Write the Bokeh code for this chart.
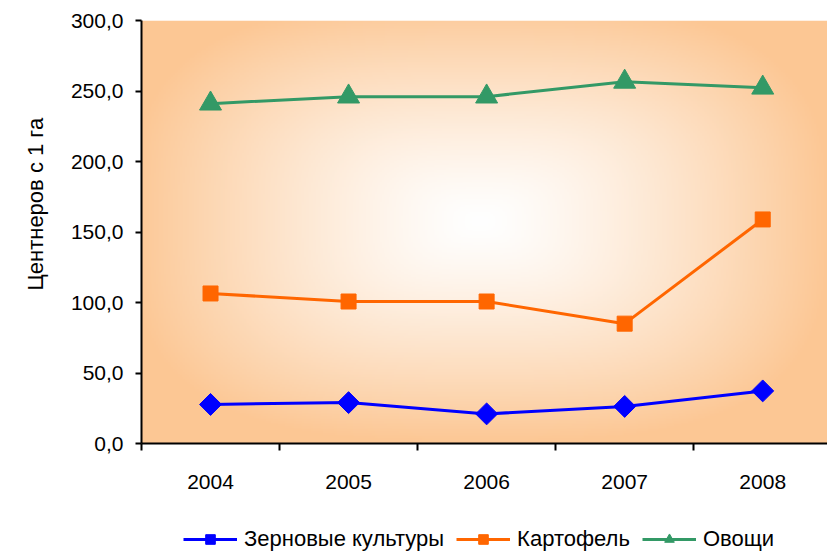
import numpy as np
from bokeh.plotting import figure
from bokeh.layouts import column
from bokeh.models import (Range1d, FixedTicker, CustomJSTickFormatter, Legend, LegendItem, Title)
from bokeh.embed import file_html
from bokeh.resources import INLINE

years = [2004, 2005, 2006, 2007, 2008]
grain = [27.7, 29.0, 21.0, 26.3, 37.3]
potato = [106.4, 100.7, 100.7, 85.0, 158.9]
veg = [241.0, 246.0, 246.0, 256.5, 252.3]
series_names = ["Зерновые культуры", "Картофель", "Овощи"]
colors = ["#0000FF", "#FF6600", "#339966"]
y_ticks = [0, 50, 100, 150, 200, 250, 300]
y_title = "Центнеров с 1 га"

FONT = "Liberation Sans"
W = 827
MAIN_H, LEG_H = 500, 52
LEFT, TOP = 140, 20
x0 = years[0] - 0.5
x1 = x0 + (W - LEFT) / 138.25

p = figure(width=W, height=MAIN_H, output_backend="svg", toolbar_location=None,
           x_range=Range1d(x0, x1), y_range=Range1d(0, 300),
           min_border_left=LEFT, min_border_top=TOP, min_border_right=0,
           min_border_bottom=MAIN_H - 443)
p.outline_line_color = None
p.background_fill_color = "white"
p.border_fill_color = "white"

# background gradient (centre white to peach edge)
nx, ny = 400, 250
gx = np.linspace(-1, 1, nx)
gy = np.linspace(-1, 1, ny)
GX, GY = np.meshgrid(gx, gy)
cx, cy = -0.02, 0.05
dx = np.abs(GX - cx) / 1.02
dy = np.abs(GY - cy) / 1.05
t = np.clip((dx ** 3 + dy ** 3) ** (1 / 3), 0, 1)
t = t ** 1.3
edge = np.array([252, 199, 148])
rgb = (255 * (1 - t[..., None]) + edge * t[..., None]).astype(np.uint32)
img = np.empty((ny, nx), dtype=np.uint32)
view = img.view(dtype=np.uint8).reshape((ny, nx, 4))
view[..., 0] = rgb[..., 0]
view[..., 1] = rgb[..., 1]
view[..., 2] = rgb[..., 2]
view[..., 3] = 255
p.image_rgba(image=[img], x=x0, y=0, dw=years[-1] + 0.5 - x0, dh=300)

# grid
p.xgrid.visible = False
p.ygrid.ticker = FixedTicker(ticks=y_ticks)
p.ygrid.grid_line_color = "black"
p.ygrid.grid_line_width = 2

# axes
p.yaxis.ticker = FixedTicker(ticks=y_ticks)
p.yaxis.formatter = CustomJSTickFormatter(code="return tick.toFixed(1).replace('.', ',');")
p.xaxis.ticker = FixedTicker(ticks=years, minor_ticks=[y - 0.5 for y in years] + [years[-1] + 0.5])
p.xaxis.major_tick_line_color = None
p.xaxis.major_tick_out = 0
p.xaxis.major_tick_in = 0
p.xaxis.minor_tick_out = 7
p.xaxis.minor_tick_in = 0
p.xaxis.minor_tick_line_color = "black"
p.xaxis.minor_tick_line_width = 2
p.xaxis.major_label_standoff = 24
p.yaxis.minor_tick_line_color = None
p.yaxis.major_tick_out = 6
p.yaxis.major_tick_in = 0
p.yaxis.major_tick_line_color = "black"
p.yaxis.major_tick_line_width = 2
p.yaxis.major_label_standoff = 12
for ax in (p.xaxis[0], p.yaxis[0]):
    ax.axis_line_color = "black"
    ax.axis_line_width = 2
    ax.major_label_text_font = FONT
    ax.major_label_text_font_size = "21px"
    ax.major_label_text_color = "black"

# y title in the left panel, starting at the same height as in the reference
ttl = Title(text=y_title, align="left", offset=153, text_font=FONT,
            text_font_size="22px", text_font_style="normal", text_color="black",
            standoff=40)
p.add_layout(ttl, "left")

# series
data = [grain, potato, veg]
markers = [dict(marker="square", angle=np.pi / 4, size=15.5),
           dict(marker="square", size=15),
           dict(marker="triangle", size=22)]
for vals, col, mk in zip(data, colors, markers):
    p.line(years, vals, line_color=col, line_width=3)
    p.scatter(years, vals, fill_color=col, line_color=col, **mk)

# legend strip below the chart (its frame is aligned with the chart frame)
lf = figure(width=W, height=LEG_H, output_backend="svg", toolbar_location=None,
            x_range=Range1d(0, 1), y_range=Range1d(0, 1),
            min_border_left=0, min_border_right=0, min_border_top=0, min_border_bottom=0)
lf.axis.visible = False
lf.grid.visible = False
lf.outline_line_color = None
items = []
for name, col, mk in zip(series_names, colors, markers):
    lr = lf.line([5, 6], [5, 5], line_color=col, line_width=3)
    sr = lf.scatter([5], [5], fill_color=col, line_color=col, **mk)
    items.append(LegendItem(label=name, renderers=[lr, sr]))

legend = Legend(items=items, orientation="horizontal", location=(182 - LEFT, 0))
legend.label_text_font = FONT
legend.label_text_font_size = "22px"
legend.label_text_color = "black"
legend.glyph_width = 54
legend.glyph_height = 24
legend.label_standoff = 7
legend.spacing = 12
legend.padding = 0
legend.margin = 0
legend.border_line_color = None
legend.background_fill_alpha = 0
lf.add_layout(legend, "center")

layout = column(p, lf, spacing=0)
open("out.html", "w").write(file_html(layout, INLINE))
